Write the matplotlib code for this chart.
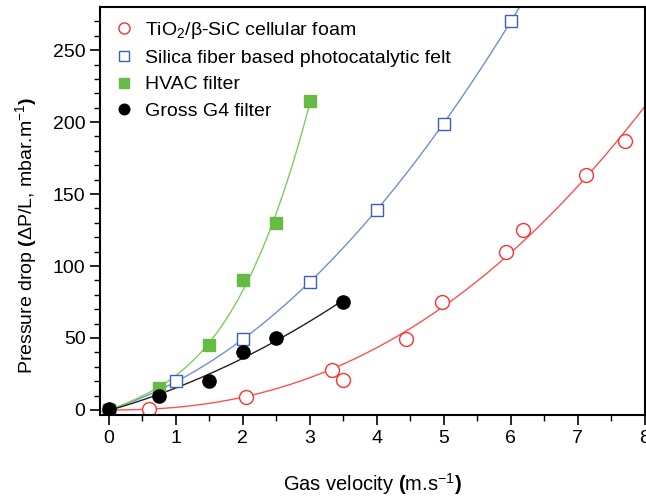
import matplotlib as mpl
mpl.use('Agg')
import matplotlib.pyplot as plt
import numpy as np

plt.rcParams['font.family'] = 'Liberation Sans'
plt.rcParams['mathtext.fontset'] = 'custom'
plt.rcParams['mathtext.rm'] = 'Liberation Sans'
plt.rcParams['mathtext.bf'] = 'Liberation Sans:bold'

# TiO2/beta-SiC cellular foam
foam_x = [0.6, 2.05, 3.33, 3.5, 4.43, 4.97, 5.93, 6.18, 7.12, 7.7]
foam_y = [1, 9, 28, 21, 49, 75, 110, 125, 163, 187]
# silica fiber felt
felt_x = [0, 1, 2, 3, 4, 5, 6]
felt_y = [0, 20, 49, 89, 139, 199, 270]
# HVAC filter
hvac_x = [0, 0.75, 1.5, 2, 2.5, 3]
hvac_y = [0, 15, 45, 90, 130, 215]
# Gross G4 filter
g4_x = [0, 0.75, 1.5, 2, 2.5, 3.5]
g4_y = [1, 10, 20, 40, 50, 75]

red = '#ff3030'
blue = '#3a5fbf'
green = '#66bb44'

fig = plt.figure(figsize=(6.46, 4.97), dpi=100)
ax = fig.add_axes([0.155, 0.165, 0.843, 0.821])

# fitted curves
# power law y = k*x^n for the foam, least squares over n
fx, fy = np.array(foam_x), np.array(foam_y)
best = None
for n in np.linspace(1.5, 3.0, 301):
    k = np.sum(fy * fx**n) / np.sum(fx**(2 * n))
    r = np.sum((fy - k * fx**n)**2)
    if best is None or r < best[0]:
        best = (r, n, k)
_, n, k = best
xs = np.linspace(0, 8, 200)
ax.plot(xs, k * xs**n, color='#ff5050', lw=1)

p = np.polyfit(felt_x, felt_y, 2)
xs = np.linspace(-0.1, 6.3, 200)
ax.plot(xs, np.polyval(p, xs), color='#7090d0', lw=1)

p = np.polyfit(hvac_x, hvac_y, 3)
xs = np.linspace(0, 3, 200)
ax.plot(xs, np.polyval(p, xs), color='#80cc60', lw=1)

p = np.polyfit(g4_x, g4_y, 2)
xs = np.linspace(0, 3.5, 200)
ax.plot(xs, np.polyval(p, xs), color='#202020', lw=1)

ax.plot(foam_x, foam_y, 'o', ls='none', mfc='white', mec=red, ms=10, mew=1,
        label=r'TiO$_2$/β-SiC cellular foam')
ax.plot(felt_x, felt_y, 's', ls='none', mfc='white', mec=blue, ms=9, mew=1,
        label='Silica fiber based photocatalytic felt')
ax.plot(hvac_x, hvac_y, 's', ls='none', color=green, ms=8.5,
        label='HVAC filter')
ax.plot(g4_x, g4_y, 'o', ls='none', color='black', ms=9.5,
        label='Gross G4 filter')

ax.set_xlim(-0.13, 8.0)
ax.set_ylim(-3.5, 280)
ax.set_xticks(np.arange(0, 9, 1))
ax.set_xticks(np.arange(0, 8.01, 0.5), minor=True)
ax.set_yticks(np.arange(0, 251, 50))
ax.set_yticks(np.arange(0, 280, 10), minor=True)
ax.tick_params(direction='out', length=7, width=1.2, labelsize=14, top=False, right=False)
ax.tick_params(which='minor', direction='out', length=4, width=1.0)
for s in ax.spines.values():
    s.set_linewidth(1.5)

ax.set_xlabel(r'Gas velocity $\mathbf{(}$m.s$^{-1}$$\mathbf{)}$', fontsize=14.5, labelpad=18)
ax.set_ylabel(r'Pressure drop $\mathbf{(}$ΔP/L, mbar.m$^{-1}$$\mathbf{)}$', fontsize=14)
ax.yaxis.set_label_coords(-0.11, 0.44)

ax.legend(loc='upper left', frameon=False, fontsize=14, handletextpad=0.45,
          labelspacing=0.45, borderaxespad=0.35, handlelength=1.2, markerscale=0.8,
          borderpad=0.3)

plt.savefig('out.png', dpi=100)
plt.close()
